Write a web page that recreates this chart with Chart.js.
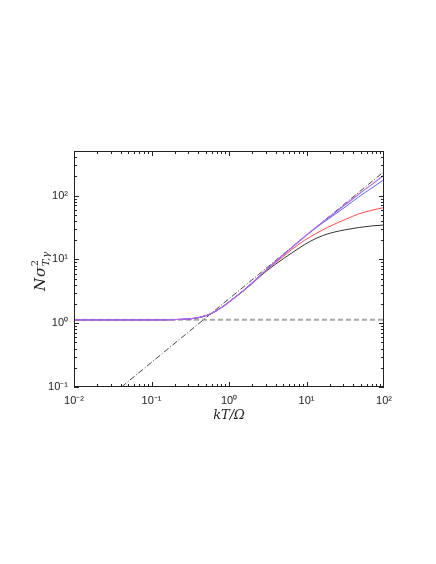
<!DOCTYPE html>
<html>
<head>
<meta charset="utf-8">
<script src="https://cdn.jsdelivr.net/npm/chart.js@4.4.1/dist/chart.umd.min.js"></script>
<style>
  html, body { margin: 0; padding: 0; background: #fff; }
  #wrap { width: 436px; height: 564px; }
</style>
</head>
<body>
<div id="wrap"><canvas id="chart" width="436" height="564"></canvas></div>
<script>
// values (log-log)
const kT = [0.01, 0.1, 0.2, 0.3, 0.4, 0.5, 0.6, 0.8, 1, 1.5, 2, 3, 5, 8, 11, 16, 22, 32, 47, 70, 100];
const purpleVals = [1.13, 1.13, 1.14, 1.165, 1.22, 1.31, 1.43, 1.76, 2.15, 3.18, 4.3, 6.8, 11.7, 19.2, 26.5, 38, 51, 73, 105, 150, 208];
const blueVals   = [1.13, 1.13, 1.14, 1.165, 1.22, 1.31, 1.43, 1.76, 2.15, 3.18, 4.3, 6.8, 11.7, 19.1, 26.3, 37, 48.5, 67, 95, 132, 178];
const redVals    = [1.13, 1.13, 1.14, 1.165, 1.22, 1.31, 1.43, 1.76, 2.15, 3.17, 4.28, 6.7, 11.1, 17.4, 22.3, 28.8, 34.8, 42.5, 51.5, 59, 65];
const blackVals  = [1.13, 1.13, 1.14, 1.165, 1.22, 1.31, 1.43, 1.76, 2.14, 3.13, 4.2, 6.5, 10.2, 15, 19, 23.5, 26.5, 29.2, 31.6, 33.5, 34.6];

// low temperature plateau (dashed) and high temperature asymptote (dash-dot)
const plateauX = [0.01, 100];
const plateauY = [1.13, 1.13];
const asymX = [0.041, 100];
const asymY = [0.1, 238];

const xTicks = [0.01, 0.1, 1, 10, 100];
const yTicks = [0.1, 1, 10, 100];
const supers = { '-': '\u207B', '0': '\u2070', '1': '\u00B9', '2': '\u00B2' };

function pts(xs, ys) {
    return xs.map((x, i) => ({ x: x, y: ys[i] }));
}

function decadeLabel(v) {
    const e = String(Math.round(Math.log10(v)));
    return '10' + e.split('').map(c => supers[c]).join('');
}

// box + inward tick marks (MATLAB style)
const boxTicks = {
    id: 'boxTicks',
    afterDatasetsDraw(chart) {
        const { ctx, chartArea: a, scales } = chart;
        const xs = scales.x, ys = scales.y;
        ctx.save();
        ctx.strokeStyle = '#222';
        ctx.lineWidth = 1;
        ctx.strokeRect(a.left + 0.5, a.top + 0.5, a.right - a.left - 1, a.bottom - a.top - 1);
        ctx.beginPath();
        for (let d = -2; d <= 1; d++) {
            for (let m = 1; m <= 9; m++) {
                const v = m * Math.pow(10, d);
                const px = Math.round(xs.getPixelForValue(v)) + 0.5;
                const len = m === 1 ? 5 : 3;
                ctx.moveTo(px, a.bottom); ctx.lineTo(px, a.bottom - len);
                ctx.moveTo(px, a.top); ctx.lineTo(px, a.top + len);
            }
        }
        for (let d = -1; d <= 2; d++) {
            for (let m = 1; m <= 9; m++) {
                const v = m * Math.pow(10, d);
                if (v > ys.max) break;
                const py = Math.round(ys.getPixelForValue(v)) + 0.5;
                const len = m === 1 ? 5 : 3;
                ctx.moveTo(a.left, py); ctx.lineTo(a.left + len, py);
                ctx.moveTo(a.right, py); ctx.lineTo(a.right - len, py);
            }
        }
        ctx.stroke();
        ctx.restore();
    },
    afterDraw(chart) {
        // y axis title N sigma^2_{T,gamma}, rotated
        const ctx = chart.ctx;
        ctx.save();
        ctx.translate(45, 291);
        ctx.rotate(-Math.PI / 2);
        ctx.fillStyle = '#222';
        ctx.textBaseline = 'alphabetic';
        ctx.font = 'italic 15px "DejaVu Serif"';
        let x = 0;
        ctx.fillText('N', x, 0); x += ctx.measureText('N').width + 1;
        ctx.fillText('\u03C3', x, 0); x += ctx.measureText('\u03C3').width + 0.5;
        ctx.font = '10px "DejaVu Serif"';
        ctx.fillText('2', x, -7);
        ctx.font = 'italic 10px "DejaVu Serif"';
        ctx.fillText('T,\u03B3', x, 4);
        ctx.restore();
    }
};

const ctx = document.getElementById('chart').getContext('2d');
new Chart(ctx, {
    type: 'scatter',
    data: {
        datasets: [
            { label: 'plateau', data: pts(plateauX, plateauY), borderColor: '#aaaaaa', borderWidth: 2, borderDash: [5, 3], order: 6 },
            { label: 'asymptote', data: pts(asymX, asymY), borderColor: '#333333', borderWidth: 0.9, borderDash: [6, 2, 1, 2], order: 5 },
            { label: 'black', data: pts(kT, blackVals), borderColor: '#333333', borderWidth: 1, order: 4 },
            { label: 'red', data: pts(kT, redVals), borderColor: '#ff4a4a', borderWidth: 1, order: 3 },
            { label: 'blue', data: pts(kT, blueVals), borderColor: '#5566ff', borderWidth: 1, order: 2 },
            { label: 'purple', data: pts(kT, purpleVals), borderColor: '#b067f0', borderWidth: 1.2, order: 1 }
        ]
    },
    options: {
        responsive: false,
        animation: false,
        showLine: true,
        elements: {
            point: { radius: 0, hoverRadius: 0 },
            line: { cubicInterpolationMode: 'monotone', fill: false }
        },
        layout: { padding: { left: 0, top: 151, right: 52, bottom: 137 } },
        plugins: {
            legend: { display: false },
            tooltip: { enabled: false }
        },
        scales: {
            x: {
                type: 'logarithmic',
                min: 0.01,
                max: 100,
                afterBuildTicks: s => { s.ticks = xTicks.map(v => ({ value: v })); },
                afterFit: s => { s.height = 40; },
                grid: { display: false, drawTicks: false },
                border: { display: false },
                ticks: {
                    padding: 7,
                    color: '#222',
                    maxRotation: 0,
                    autoSkip: false,
                    font: { family: 'Liberation Sans', size: 11 },
                    callback: v => decadeLabel(v)
                },
                title: {
                    display: true,
                    text: 'kT/\u03A9',
                    color: '#222',
                    padding: { top: 0, bottom: 4 },
                    font: { family: 'DejaVu Serif', style: 'italic', size: 13 }
                }
            },
            y: {
                type: 'logarithmic',
                min: 0.1,
                max: 500,
                afterBuildTicks: s => { s.ticks = yTicks.map(v => ({ value: v })); },
                afterFit: s => { s.width = 74; },
                grid: { display: false, drawTicks: false },
                border: { display: false },
                ticks: {
                    padding: 6,
                    color: '#222',
                    autoSkip: false,
                    font: { family: 'Liberation Sans', size: 11 },
                    callback: v => decadeLabel(v)
                }
            }
        }
    },
    plugins: [boxTicks]
});
</script>
</body>
</html>
